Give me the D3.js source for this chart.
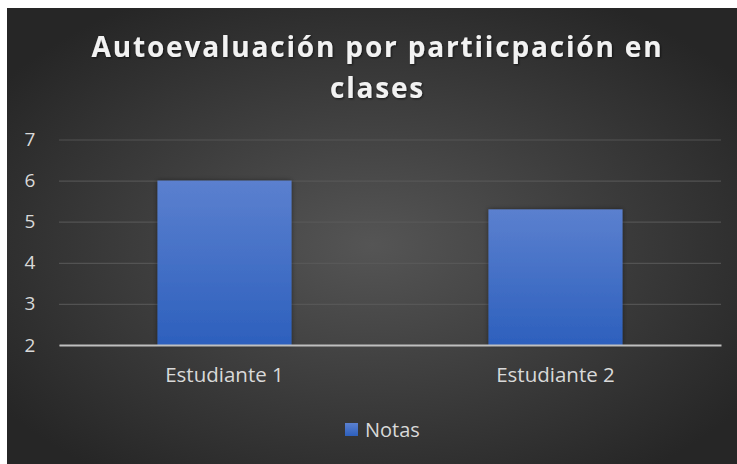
<!DOCTYPE html>
<html>
<head>
<meta charset="utf-8">
<script src="https://cdn.jsdelivr.net/npm/d3@7"></script>
<style>
  html, body { margin: 0; padding: 0; background: #fff; }
  svg { display: block; }
</style>
</head>
<body>
<div class="canvas"></div>
<script>
const dims = { width: 737, height: 464 };
const plot = { left: 59, right: 721, top: 139.5, bottom: 345 };

// data
const categories = ['Estudiante 1', 'Estudiante 2'];
const notas = [6, 5.3];
const yTicks = [2, 3, 4, 5, 6, 7];
const titleLines = ['Autoevaluación por partiicpación en', 'clases'];
const seriesName = 'Notas';

const svg = d3.select('.canvas')
    .append('svg')
    .attr('width', dims.width)
    .attr('height', dims.height);

const defs = svg.append('defs');

// background radial gradient
const bg = defs.append('radialGradient')
    .attr('id', 'bg')
    .attr('cx', '50%').attr('cy', '52%').attr('r', '62%');
bg.append('stop').attr('offset', '0%').attr('stop-color', '#555555');
bg.append('stop').attr('offset', '100%').attr('stop-color', '#262626');

// bar gradient
const barGrad = defs.append('linearGradient')
    .attr('id', 'barGrad')
    .attr('x1', 0).attr('y1', 0).attr('x2', 0).attr('y2', 1);
barGrad.append('stop').attr('offset', '0%').attr('stop-color', '#5b80cf');
barGrad.append('stop').attr('offset', '100%').attr('stop-color', '#2d60bd');

const shadow = defs.append('filter').attr('id', 'shadow')
    .attr('x', '-10%').attr('y', '-10%').attr('width', '120%').attr('height', '120%');
shadow.append('feDropShadow')
    .attr('dx', 0).attr('dy', 0).attr('stdDeviation', 2.5)
    .attr('flood-color', '#000').attr('flood-opacity', 0.45);

const txtShadow = defs.append('filter').attr('id', 'txtShadow');
txtShadow.append('feDropShadow')
    .attr('dx', 1).attr('dy', 1).attr('stdDeviation', 1.2)
    .attr('flood-color', '#000').attr('flood-opacity', 0.6);

svg.append('rect')
    .attr('x', 7).attr('y', 8)
    .attr('width', dims.width - 7).attr('height', dims.height - 8)
    .attr('fill', 'url(#bg)');

// scales
const x = d3.scaleBand()
    .domain(categories)
    .range([plot.left, plot.right])
    .paddingInner(0.595)
    .paddingOuter(0.2975);

const y = d3.scaleLinear()
    .domain([2, 7])
    .range([plot.bottom, plot.top]);

// gridlines
const grid = svg.append('g')
    .attr('transform', `translate(${plot.left},0)`)
    .call(d3.axisLeft(y).tickValues(yTicks).tickSize(-(plot.right - plot.left)).tickFormat(''));
grid.select('.domain').remove();
grid.selectAll('line')
    .attr('stroke', '#5a5a5a')
    .attr('stroke-width', 1.2)
    .attr('stroke-opacity', 0.8);

// y tick labels
const yAxis = svg.append('g')
    .attr('transform', `translate(${plot.left},0)`)
    .call(d3.axisLeft(y).tickValues(yTicks).tickFormat(d3.format('d')).tickSize(0).tickPadding(29));
yAxis.select('.domain').remove();
yAxis.selectAll('text')
    .attr('fill', '#d9d9d9')
    .attr('font-family', 'Open Sans, sans-serif')
    .attr('font-size', 19)
    .attr('text-anchor', 'middle');

// bars
svg.append('g')
    .selectAll('rect')
    .data(notas)
    .enter()
    .append('rect')
    .attr('x', (d, i) => x(categories[i]))
    .attr('y', d => y(d))
    .attr('width', x.bandwidth())
    .attr('height', d => y(2) - y(d))
    .attr('fill', 'url(#barGrad)')
    .attr('filter', 'url(#shadow)');

// x axis baseline + labels
const xAxis = svg.append('g')
    .attr('transform', `translate(0,${plot.bottom})`)
    .call(d3.axisBottom(x).tickSize(0).tickPadding(22));
xAxis.select('.domain')
    .attr('stroke', '#bfbfbf')
    .attr('stroke-width', 2);
xAxis.selectAll('text')
    .attr('fill', '#d9d9d9')
    .attr('font-family', 'Open Sans, sans-serif')
    .attr('font-size', 20.5);

// title
const title = svg.append('g')
    .attr('font-family', 'Open Sans, sans-serif')
    .attr('font-weight', 'bold')
    .attr('font-size', 28)
    .attr('fill', '#f2f2f2')
    .attr('text-anchor', 'middle')
    .attr('filter', 'url(#txtShadow)');

const titleText = title.selectAll('text')
    .data(titleLines)
    .enter()
    .append('text')
    .attr('x', 377.5)
    .attr('y', (d, i) => 57 + i * 40.5)
    .text(d => d);

// spread letters so the first line spans the same width as the picture
const first = titleText.node();
const natural = first.getComputedTextLength();
const spacing = (570 - natural) / (titleLines[0].length - 1);
titleText.attr('letter-spacing', spacing);

// legend
const legend = svg.append('g')
    .attr('transform', 'translate(345,423)');
legend.append('rect')
    .attr('width', 13).attr('height', 13)
    .attr('fill', 'url(#barGrad)');
legend.append('text')
    .attr('x', 20).attr('y', 14)
    .attr('fill', '#d9d9d9')
    .attr('font-family', 'Open Sans, sans-serif')
    .attr('font-size', 20)
    .text(seriesName);
</script>
</body>
</html>
